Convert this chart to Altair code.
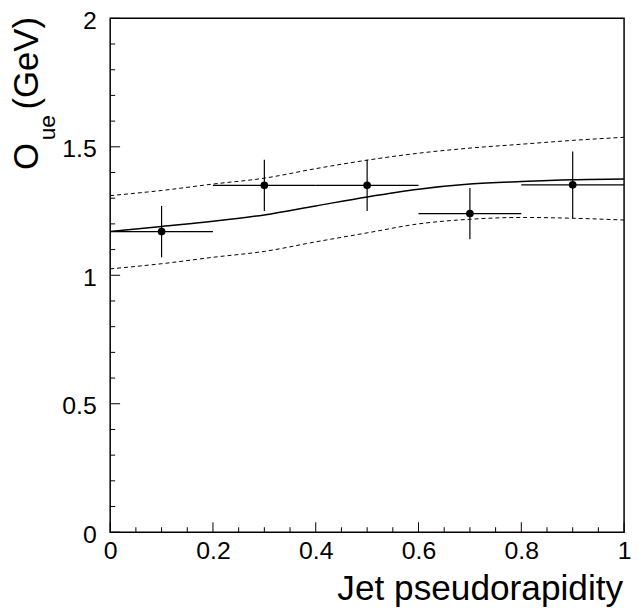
import altair as alt
import pandas as pd

# ---- data ----
pt_x = [0.1, 0.3, 0.5, 0.7, 0.9]
pt_y = [1.17, 1.35, 1.35, 1.24, 1.352]
pt_yerr = [0.10, 0.10, 0.10, 0.10, 0.13]
pt_xerr = [0.1, 0.1, 0.1, 0.1, 0.1]

curve_x = [0.0, 0.1, 0.2, 0.3, 0.4, 0.5, 0.6, 0.7, 0.8, 0.9, 1.0]
central = [1.17, 1.19, 1.21, 1.235, 1.27, 1.305, 1.335, 1.355, 1.365, 1.372, 1.375]
upper = [1.31, 1.33, 1.355, 1.378, 1.415, 1.448, 1.475, 1.495, 1.51, 1.525, 1.537]
lower = [1.025, 1.045, 1.07, 1.093, 1.13, 1.165, 1.2, 1.218, 1.225, 1.222, 1.215]

x_major = [0.0, 0.2, 0.4, 0.6, 0.8, 1.0]
x_minor = [0.05, 0.1, 0.15, 0.25, 0.3, 0.35, 0.45, 0.5, 0.55, 0.65, 0.7, 0.75, 0.85, 0.9, 0.95]
y_major = [0.0, 0.5, 1.0, 1.5, 2.0]
y_minor = [0.1, 0.2, 0.3, 0.4, 0.6, 0.7, 0.8, 0.9, 1.1, 1.2, 1.3, 1.4, 1.6, 1.7, 1.8, 1.9]

W = 518
H = 518
FONT = "Liberation Sans"

pts = pd.DataFrame({"x": pt_x, "y": pt_y})
pts["ylo"] = [a - b for a, b in zip(pt_y, pt_yerr)]
pts["yhi"] = [a + b for a, b in zip(pt_y, pt_yerr)]
pts["xlo"] = [a - b for a, b in zip(pt_x, pt_xerr)]
pts["xhi"] = [a + b for a, b in zip(pt_x, pt_xerr)]

curves = pd.DataFrame({"x": curve_x, "c": central, "u": upper, "l": lower})

xscale = alt.Scale(domain=[0, 1], nice=False, zero=False)
yscale = alt.Scale(domain=[0, 2], nice=False, zero=False)
xaxis = alt.Axis(values=x_major, format="~g", title=None, ticks=False, domain=False,
                 grid=False, labelFont=FONT, labelFontSize=25, labelColor="black",
                 labelPadding=6, labelFlush=False, labelOverlap=False)
yaxis = alt.Axis(values=y_major, format="~g", title=None, ticks=False, domain=False,
                 grid=False, labelFont=FONT, labelFontSize=25, labelColor="black",
                 labelPadding=14, labelOffset=2, labelOverlap=False)


def X(f):
    return alt.X(f, type="quantitative", scale=xscale, axis=xaxis)


def Y(f):
    return alt.Y(f, type="quantitative", scale=yscale, axis=yaxis)


base_c = alt.Chart(curves)
line_c = base_c.mark_line(color="black", strokeWidth=1.5, interpolate="monotone").encode(x=X("x"), y=Y("c"))
line_u = base_c.mark_line(color="black", strokeWidth=1, strokeDash=[4, 3], interpolate="monotone").encode(x=X("x"), y=Y("u"))
line_l = base_c.mark_line(color="black", strokeWidth=1, strokeDash=[4, 3], interpolate="monotone").encode(x=X("x"), y=Y("l"))

base_p = alt.Chart(pts)
hbar = base_p.mark_rule(color="black", strokeWidth=1.2).encode(x=X("xlo"), x2="xhi", y=Y("y"))
vbar = base_p.mark_rule(color="black", strokeWidth=1.2).encode(x=X("x"), y=Y("ylo"), y2="yhi")
dots = base_p.mark_circle(color="black", opacity=1, size=60).encode(x=X("x"), y=Y("y"))

ytk_major = alt.Chart(pd.DataFrame({"v": y_major})).mark_rule(color="black", strokeWidth=1).encode(
    y=Y("v"), x=alt.value(0), x2=alt.value(10))
ytk_minor = alt.Chart(pd.DataFrame({"v": y_minor})).mark_rule(color="black", strokeWidth=1).encode(
    y=Y("v"), x=alt.value(0), x2=alt.value(5))
xtk_major = alt.Chart(pd.DataFrame({"v": x_major})).mark_rule(color="black", strokeWidth=1).encode(
    x=X("v"), y=alt.value(H), y2=alt.value(H - 10))
xtk_minor = alt.Chart(pd.DataFrame({"v": x_minor})).mark_rule(color="black", strokeWidth=1).encode(
    x=X("v"), y=alt.value(H), y2=alt.value(H - 5))

xtitle = alt.Chart(pd.DataFrame({"t": ["Jet pseudorapidity"]})).mark_text(
    font=FONT, fontSize=35.5, align="right", baseline="alphabetic", color="black").encode(
    text="t:N", x=alt.value(517), y=alt.value(586))

yt_O = alt.Chart(pd.DataFrame({"t": ["O"]})).mark_text(
    font=FONT, fontSize=35, align="left", baseline="alphabetic", angle=270, color="black").encode(
    text="t:N", x=alt.value(-72.5), y=alt.value(153))
yt_sub = alt.Chart(pd.DataFrame({"t": ["ue"]})).mark_text(
    font=FONT, fontSize=23, align="left", baseline="alphabetic", angle=270, color="black").encode(
    text="t:N", x=alt.value(-56), y=alt.value(123))
yt_gev = alt.Chart(pd.DataFrame({"t": ["(GeV)"]})).mark_text(
    font=FONT, fontSize=35, align="left", baseline="alphabetic", angle=270, color="black").encode(
    text="t:N", x=alt.value(-72.5), y=alt.value(92))

chart = alt.layer(
    line_u, line_l, line_c, hbar, vbar, dots,
    ytk_major, ytk_minor, xtk_major, xtk_minor,
    xtitle, yt_O, yt_sub, yt_gev,
).properties(
    width=W, height=H,
    autosize=alt.AutoSizeParams(type="none"),
    padding={"left": 103, "top": 8, "right": 10, "bottom": 78},
    background="white",
).configure_view(stroke="black", strokeWidth=1.5)

chart.save("out.html", embed_options={"renderer": "svg", "actions": False})
